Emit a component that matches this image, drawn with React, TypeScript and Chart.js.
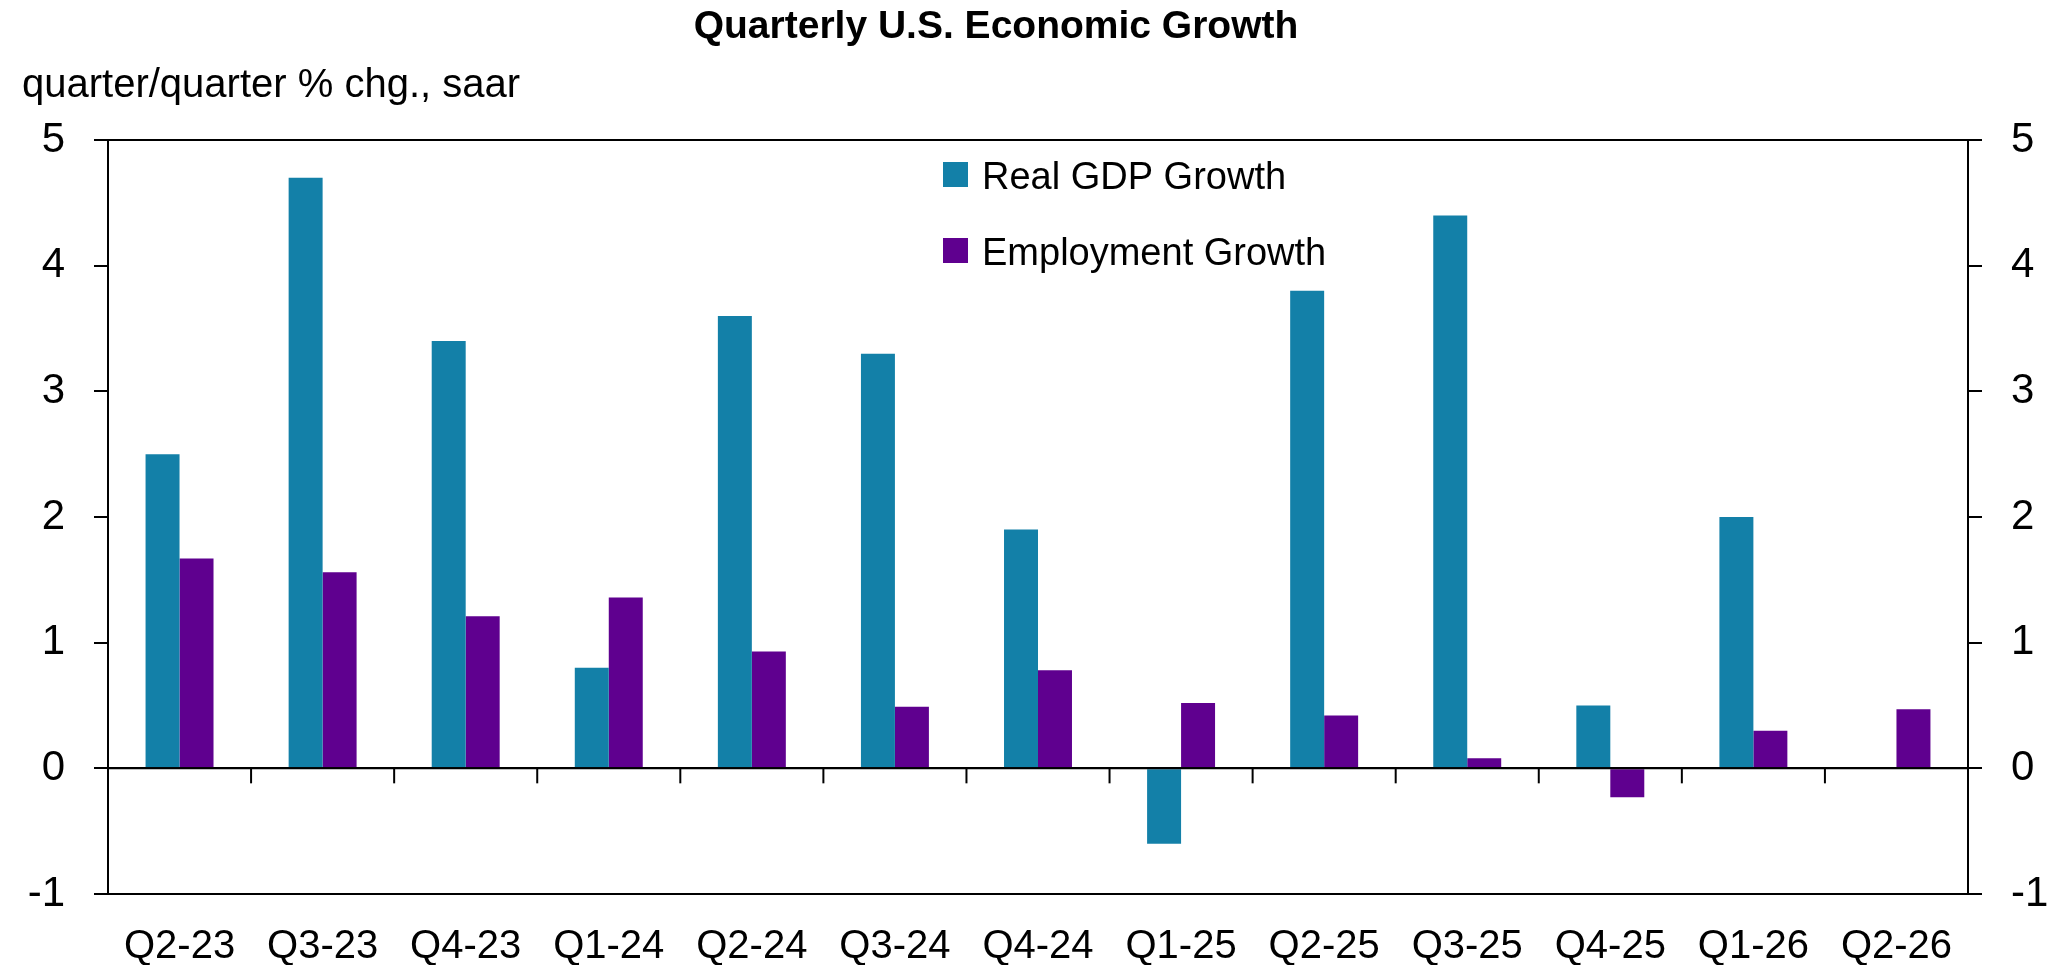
import { useEffect, useRef } from 'react';
import { Chart, registerables } from 'chart.js';

Chart.register(...registerables);

const categories = ['Q2-23', 'Q3-23', 'Q4-23', 'Q1-24', 'Q2-24', 'Q3-24', 'Q4-24', 'Q1-25', 'Q2-25', 'Q3-25', 'Q4-25', 'Q1-26', 'Q2-26'];
const gdpGrowth = [2.5, 4.7, 3.4, 0.8, 3.6, 3.3, 1.9, -0.6, 3.8, 4.4, 0.5, 2.0, null];
const employmentGrowth = [1.67, 1.56, 1.21, 1.36, 0.93, 0.49, 0.78, 0.52, 0.42, 0.08, -0.23, 0.3, 0.47];
const seriesLabels = ['Real GDP Growth', 'Employment Growth'];
const seriesColors = ['#1380A8', '#5F008F'];
const yMin = -1;
const yMax = 5;
const framedValues = [-1, 0, 5];
const titleText = 'Quarterly U.S. Economic Growth';
const subtitleText = 'quarter/quarter % chg., saar';

const FONT = "'Liberation Sans', Arial, Helvetica, sans-serif";

const headerPlugin = {
  id: 'header',
  afterDraw(chart: any) {
    const ctx = chart.ctx;
    ctx.save();
    ctx.fillStyle = '#000';
    ctx.textBaseline = 'alphabetic';
    ctx.font = `bold 39px ${FONT}`;
    ctx.textAlign = 'center';
    ctx.fillText(titleText, 988, 30);
    ctx.font = `40px ${FONT}`;
    ctx.textAlign = 'left';
    ctx.fillText(subtitleText, 14, 89);
    ctx.restore();
  },
};

const legendPlugin = {
  id: 'customLegend',
  afterDraw(chart: any) {
    const ctx = chart.ctx;
    ctx.save();
    ctx.font = `38px ${FONT}`;
    ctx.textAlign = 'left';
    ctx.textBaseline = 'alphabetic';
    chart.data.datasets.forEach((ds: any, i: number) => {
      const cy = 166.5 + i * 76;
      ctx.fillStyle = ds.backgroundColor;
      ctx.fillRect(935, cy - 12.5, 25, 25);
      ctx.fillStyle = '#000';
      ctx.fillText(ds.label, 974, cy + 14);
    });
    ctx.restore();
  },
};

const zeroTicksPlugin = {
  id: 'zeroTicks',
  afterDatasetsDraw(chart: any) {
    const ctx = chart.ctx;
    const x = chart.scales.x;
    const y = chart.scales.y;
    const y0 = y.getPixelForValue(0);
    ctx.save();
    ctx.strokeStyle = '#000';
    ctx.lineWidth = 2;
    ctx.beginPath();
    ctx.moveTo(chart.chartArea.left, y0);
    ctx.lineTo(chart.chartArea.right, y0);
    ctx.stroke();
    for (let i = 0; i < categories.length - 1; i++) {
      const xb = (x.getPixelForValue(i) + x.getPixelForValue(i + 1)) / 2;
      ctx.beginPath();
      ctx.moveTo(xb, y0);
      ctx.lineTo(xb, y0 + 15);
      ctx.stroke();
    }
    ctx.restore();
  },
};

const xTickFont = { size: 40, family: FONT };
const yTickFont = { size: 42, family: FONT };

export default function App() {
  const ref = useRef<HTMLCanvasElement | null>(null);

  useEffect(() => {
    if (!ref.current) return;
    Chart.defaults.font.family = FONT;
    const chart = new Chart(ref.current, {
      type: 'bar',
      data: {
        labels: categories,
        datasets: [
          {
            label: seriesLabels[0],
            data: gdpGrowth,
            backgroundColor: seriesColors[0],
            categoryPercentage: 0.475,
            barPercentage: 1.0,
          },
          {
            label: seriesLabels[1],
            data: employmentGrowth,
            backgroundColor: seriesColors[1],
            categoryPercentage: 0.475,
            barPercentage: 1.0,
          },
        ],
      },
      options: {
        animation: false,
        responsive: true,
        maintainAspectRatio: false,
        layout: { padding: { top: 132, left: 0, right: 0, bottom: 0 } },
        plugins: {
          legend: { display: false },
          title: { display: false },
          tooltip: { enabled: false },
        },
        scales: {
          x: {
            grid: { display: false, drawTicks: false },
            border: { display: false },
            ticks: { font: xTickFont, color: '#000', padding: 29, maxRotation: 0, autoSkip: false },
            afterFit: (s: any) => {
              s.height = 71;
            },
          },
          y: {
            position: 'left',
            min: yMin,
            max: yMax,
            ticks: { stepSize: 1, font: yTickFont, color: '#000', padding: 29 },
            grid: {
              color: (c: any) => (c.tick && framedValues.includes(c.tick.value) ? '#000' : 'rgba(0,0,0,0)'),
              lineWidth: 2,
              tickLength: 14,
              tickColor: '#000',
              drawTicks: true,
            },
            border: { color: '#000', width: 2 },
            afterFit: (s: any) => {
              s.width = 100;
            },
          },
          y2: {
            position: 'right',
            min: yMin,
            max: yMax,
            ticks: { stepSize: 1, font: yTickFont, color: '#000', padding: 29 },
            grid: {
              drawOnChartArea: false,
              color: '#000',
              lineWidth: 2,
              tickLength: 14,
              tickColor: '#000',
              drawTicks: true,
            },
            border: { color: '#000', width: 2 },
            afterFit: (s: any) => {
              s.width = 80;
            },
          },
        },
      } as any,
      plugins: [headerPlugin, legendPlugin, zeroTicksPlugin],
    });
    return () => chart.destroy();
  }, []);

  return (
    <div style={{ width: 2040, height: 957, position: 'relative' }}>
      <canvas ref={ref} />
    </div>
  );
}
